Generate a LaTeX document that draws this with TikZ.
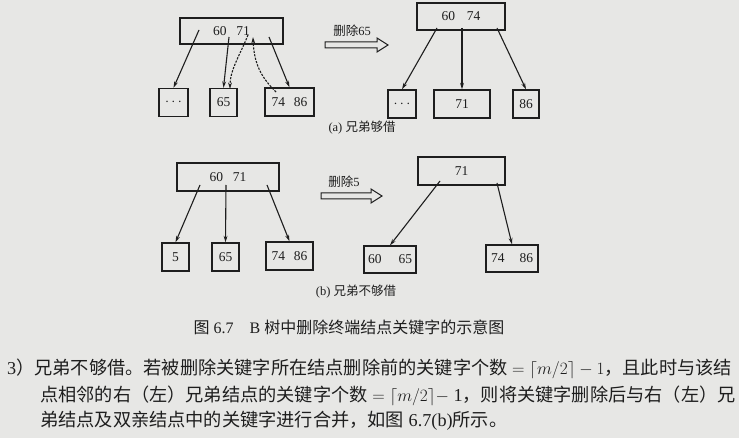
\documentclass[tikz,border=0pt]{standalone}
\usepackage{fontspec}
\setmainfont{Liberation Serif}
\newfontfamily\cjk{Noto Sans CJK SC}
\usetikzlibrary{arrows.meta}
\definecolor{paper}{RGB}{231,231,229}
\definecolor{ink}{RGB}{30,30,30}

\begin{document}
\begin{tikzpicture}[x = 1pt, y = -1pt, color = ink,
		keybox/.style = {draw, line width = 1.3pt, inner sep = 0pt, minimum height = 28,
			font = \fontsize{13.5}{15}\selectfont},
		link/.style = {-{Stealth[length = 6.5pt, width = 3.8pt]}, line width = 1.1pt},
		move/.style = {link, dash pattern = on 2.2pt off 1.3pt},
		small/.style = {font = \fontsize{12.5}{14}\selectfont},
		body/.style = {anchor = west, inner sep = 0pt, font = \fontsize{18.2}{21}\selectfont}]
		\fill [paper] (0,0) rectangle (739,438);
		\useasboundingbox (0,0) rectangle (739,438);
		%
		% (a) before deleting
		\node [keybox, minimum width = 103, minimum height = 26] (ra) at (231.5,31) {60\hspace{10pt}71};
		\node [keybox, minimum width = 29] (ra1) at (173.5,102.5) {$\cdots$};
		\node [keybox, minimum width = 27] (ra2) at (223.5,102.5) {65};
		\node [keybox, minimum width = 49] (ra3) at (289.5,102) {74\hspace{9pt}86};
		%
		% (a) after deleting
		\node [keybox, minimum width = 88, minimum height = 27] (sa) at (461,16.5) {60\hspace{12pt}74};
		\node [keybox, minimum width = 28] (sa1) at (402,104) {$\cdots$};
		\node [keybox, minimum width = 56] (sa2) at (462,104) {71};
		\node [keybox, minimum width = 26] (sa3) at (526,104) {86};
		%
		% (b) before deleting
		\node [keybox, minimum width = 102] (rb) at (228,177) {60\hspace{10pt}71};
		\node [keybox, minimum width = 27] (rb1) at (175.5,257) {5};
		\node [keybox, minimum width = 27] (rb2) at (225.5,257) {65};
		\node [keybox, minimum width = 47] (rb3) at (289.5,256) {74\hspace{9pt}86};
		%
		% (b) after deleting
		\node [keybox, minimum width = 87] (sb) at (461.5,171) {71};
		\node [keybox, minimum width = 52, minimum height = 27] (sb1) at (390,259.5) {60\hspace{17pt}65};
		\node [keybox, minimum width = 52, minimum height = 27] (sb2) at (512,258.5) {74\hspace{15pt}86};
		%
		\foreach \n/\p in {pa1/{199,30}, pa2/{229,37}, pa3/{269,37},
				qa1/{437,28}, qa2/{462,28}, qa3/{497,28},
				pb1/{200,185}, pb2/{226,185}, pb3/{267,185},
				qb1/{440,181}, qb3/{497,183}}{
				\coordinate (\n) at (\p);
			}
		\foreach \s/\t in {pa1/ra1, pa2/ra2, pa3/ra3, qa1/sa1, qa2/sa2, qa3/sa3,
				pb1/rb1, pb2/rb2, pb3/rb3, qb1/sb1, qb3/sb2}{
				\draw [link] (\s) -- (\t.north);
			}
		%
		\coordinate (m71) at (248,35);
		\coordinate (m65) at (230,89);
		\coordinate (m74) at (276,92);
		\coordinate (u71) at (253,37);
		\draw [move] (m71) .. controls (240,55) and (230,70) .. (m65);
		\draw [move] (m74) .. controls (262,78) and (254,65) .. (u71);
		%
		\foreach \x/\y/\l in {325/45/63, 321/196/61}{
				\draw [line width = 1pt, line join = miter] (\x,\y-3) -- (\x+\l-11,\y-3) -- (\x+\l-11,\y-7)
					-- (\x+\l,\y) -- (\x+\l-11,\y+7) -- (\x+\l-11,\y+3) -- (\x,\y+3) -- cycle;
			}
		\node [small] (opa) at (352,31) {{\cjk 删除}65};
		\node [small] (opb) at (344,182) {{\cjk 删除}5};
		\node [small] (capa) at (362,128) {(a) {\cjk 兄弟够借}};
		\node [small] (capb) at (356,292) {(b) {\cjk 兄弟不够借}};
		%
		\node [font = \fontsize{16}{19}\selectfont] (title) at (349,327)
			{{\cjk 图} 6.7\quad B {\cjk 树中删除终端结点关键字的示意图}};
		\node [body] (line1) at (7,369)
			{3{\cjk ）兄弟不够借。若被删除关键字所在结点删除前的关键字个数} $=\lceil m/2\rceil-1${\cjk ，且此时与该结}};
		\node [body] (line2) at (40,396)
			{{\cjk 点相邻的右（左）兄弟结点的关键字个数} $=\lceil m/2\rceil-$ 1{\cjk ，则将关键字删除后与右（左）兄}};
		\node [body] (line3) at (40,421)
			{{\cjk 弟结点及双亲结点中的关键字进行合并，如图} 6.7(b){\cjk 所示。}};
	\end{tikzpicture}
\end{document}
